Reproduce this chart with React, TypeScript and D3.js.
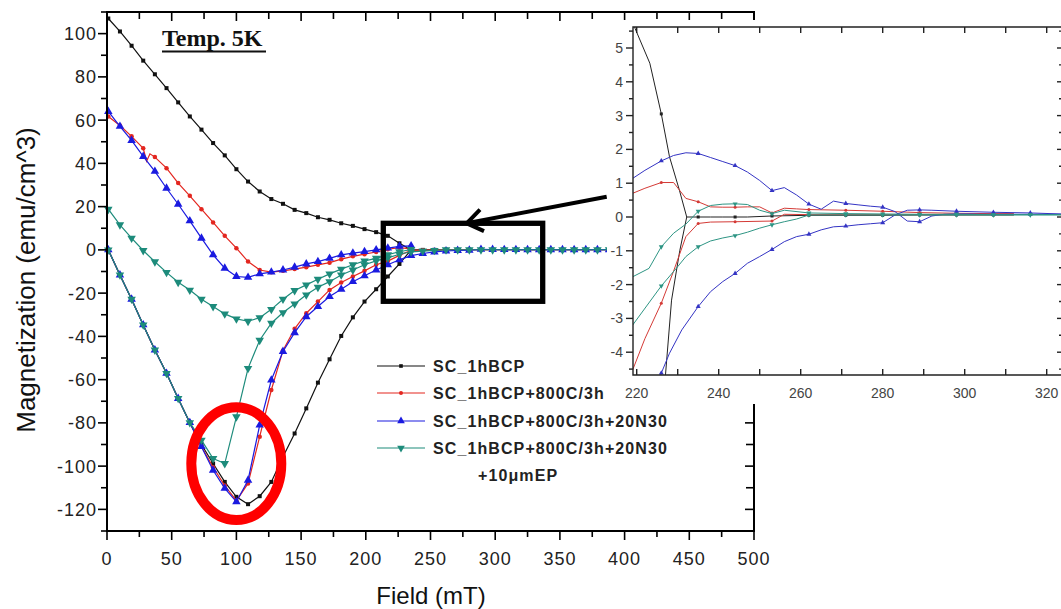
import React from "react";
import * as d3 from "d3";

// ---------- main chart data (Field in mT, Magnetization in emu/cm^3) ----------
const FIELD = [1, 10, 19, 28, 37, 46, 55, 64, 73, 82, 91, 100, 109, 118, 127, 136, 145, 154, 163, 172, 181, 190, 199, 208, 217, 226, 235];
const TAIL_FIELD = [244, 253, 262, 271, 280, 289, 298, 307, 316, 325, 334, 343, 352, 361, 370, 379, 388, 397];

const blackUp = [0, -11.6, -22.8, -34.7, -46.3, -57.1, -68.7, -79.9, -90, -98.8, -107.3, -114.2, -117.6, -113.9, -107.3, -95.7, -84.9, -73.3, -61.4, -50.6, -39.8, -31.2, -23.9, -18.2, -12.3, -6.5, 0];
const blackDown = [107, 101, 94.4, 87.5, 81.2, 74.8, 68.2, 61.7, 55.6, 49.4, 43.7, 37.3, 31.6, 27, 23.5, 21.3, 18.5, 17, 15.1, 13.9, 12.3, 11.1, 9.6, 8.2, 6.5, 3.05, 0];
const blackTail = [0, 0.03, 0.05, 0.05, 0.05, 0.06, 0.06, 0.06, 0.06, 0.06, 0.05, 0.05, 0.05, 0.05, 0.05, 0.05, 0.05, 0.05];

const redUp = [0, -11.6, -22.8, -34.7, -46.3, -57.1, -68.7, -79.9, -91, -100.5, -109, -116, -108, -86.4, -64.8, -46.5, -36.5, -29.3, -23.9, -18.5, -15.1, -12.3, -9.7, -6.9, -5.2, -2.55, -0.19];
const redDownField = [1, 10, 19, 28, 30.6, 33.2, 37, 46, 55, 64, 73, 82, 91, 100, 109, 118, 127, 136, 145, 154, 163, 172, 181, 190, 199, 208, 217, 226, 235];
const redDown = [61.7, 57.5, 52.5, 47, 41, 44.4, 42.9, 37.8, 30.9, 25, 18.8, 12.7, 6.5, 0.8, -5.4, -9.3, -10.3, -9.7, -8.9, -8, -6.9, -5.9, -4.3, -3, -2, -1, 0.3, 1.02, 0.45];
const redTail = [-0.14, -0.12, 0.07, 0.07, 0.07, 0.07, 0.07, 0.07, 0.07, 0.07, 0.06, 0.06, 0.06, 0.06, 0.06, 0.06, 0.06, 0.06];

const blueUp = [0, -11.6, -22.8, -34.7, -46.3, -57.1, -68.7, -79.9, -91, -101.9, -110.3, -116.5, -106.5, -81, -60.2, -47, -38.3, -30.9, -26.2, -21.6, -18.2, -14.7, -12, -9.3, -6.9, -4.6, -2.65];
const blueDown = [64, 57.1, 50.6, 43.2, 36.3, 28.5, 21.1, 13.4, 5.4, -2.3, -8.5, -12.3, -12.7, -11.1, -10.3, -9.3, -8, -6.5, -5.4, -3.9, -2.3, -1.5, -0.8, 0, 0.8, 1.66, 1.88];
const blueTail = [-1.67, -0.96, -0.51, -0.27, -0.17, 0.21, 0.17, 0.14, 0.1, 0.08, 0.08, 0.07, 0.07, 0.07, 0.07, 0.07, 0.07, 0.07];

const tealUp = [0, -11.6, -22.8, -34.7, -46.3, -57.1, -68.7, -79.9, -88, -96.5, -98.8, -77.2, -54.8, -41.8, -33.9, -29, -25, -20.8, -17.3, -14.7, -11.6, -9.3, -6.9, -5.1, -3.7, -2.04, -0.88];
const tealDown = [18.8, 11.6, 5.4, -0.3, -5.5, -10.4, -15, -18.6, -22.8, -26.2, -29.6, -31.9, -33, -31.4, -27.5, -22.8, -18.8, -16.2, -13.6, -11.1, -8.9, -6.9, -5.1, -3.9, -2.2, -0.88, 0.17];
const tealTail = [-0.55, -0.23, 0.06, 0.06, 0.06, 0.06, 0.06, 0.06, 0.06, 0.06, 0.06, 0.06, 0.06, 0.06, 0.06, 0.06, 0.06, 0.06];

const SERIES_NAMES = ["SC_1hBCP", "SC_1hBCP+800C/3h", "SC_1hBCP+800C/3h+20N30", "SC_1hBCP+800C/3h+20N30"];
const LEGEND_EXTRA = "+10\u03bcmEP";

const X_TICKS = [0, 50, 100, 150, 200, 250, 300, 350, 400, 450, 500];
const Y_TICKS = [-120, -100, -80, -60, -40, -20, 0, 20, 40, 60, 80, 100];

// ---------- inset data (zoom 219..324 mT) ----------
const blueUpperF = [219, 222, 226, 229, 232, 235, 238, 241, 244, 247, 250, 253, 256, 259, 262, 265, 268, 271, 274, 277, 280, 283, 286, 289, 292, 295, 298, 301, 304, 307, 310, 313, 316, 319, 322, 326];
const blueUpperM = [1.14, 1.38, 1.66, 1.82, 1.9, 1.88, 1.76, 1.64, 1.52, 1.33, 1.08, 0.78, 0.87, 0.65, 0.38, 0.23, 0.47, 0.4, 0.36, 0.32, 0.29, 0.16, -0.12, -0.14, 0.03, 0.08, 0.09, 0.09, 0.08, 0.08, 0.08, 0.08, 0.08, 0.08, 0.08, 0.08];
const blueLowerF = [224.5, 226, 228, 231, 235, 238, 241, 244, 247, 250, 253, 256, 259, 262, 265, 268, 271, 274, 277, 280, 283, 286, 289, 292, 298, 307, 316, 326];
const blueLowerM = [-5.2, -4.62, -4.03, -3.34, -2.65, -2.21, -1.91, -1.67, -1.37, -1.17, -0.96, -0.73, -0.58, -0.51, -0.38, -0.29, -0.27, -0.23, -0.2, -0.17, 0.06, 0.2, 0.21, 0.2, 0.17, 0.14, 0.12, 0.08];
const redUpperF = [219, 222, 226, 229, 232, 235, 238, 241, 244, 247, 250, 253, 256, 259, 262, 271, 280, 289, 298, 307, 312];
const redUpperM = [0.7, 0.85, 1.02, 1.02, 0.55, 0.45, 0.3, 0.29, 0.29, 0.3, 0.3, 0.12, 0.26, 0.24, 0.22, 0.2, 0.17, 0.13, 0.11, 0.1, 0.1];
const redLowerF = [219, 222, 226, 229, 232, 235, 238, 244, 253, 256, 262, 271, 280, 289, 298, 307, 312];
const redLowerM = [-4.53, -3.6, -2.55, -1.6, -0.58, -0.19, -0.15, -0.14, -0.12, 0.08, 0.07, 0.07, 0.07, 0.07, 0.07, 0.07, 0.07];
const tealUpperF = [219, 223, 226, 229, 232, 235, 238, 241, 244, 247, 250, 253, 256, 262, 271, 280, 289, 298, 307, 316, 326];
const tealUpperM = [-1.77, -1.52, -0.88, -0.48, -0.21, 0.17, 0.34, 0.38, 0.39, 0.37, 0.2, 0.1, 0.2, 0.12, 0.1, 0.09, 0.08, 0.08, 0.07, 0.07, 0.07];
const tealLowerF = [219, 226, 230, 232, 235, 238, 241, 244, 247, 250, 253, 256, 259, 262, 271, 280, 289, 298, 307, 316, 326];
const tealLowerM = [-3.2, -2.04, -1.47, -1.17, -0.88, -0.71, -0.62, -0.55, -0.45, -0.33, -0.23, -0.14, -0.06, 0.06, 0.06, 0.06, 0.06, 0.06, 0.06, 0.06, 0.06];
const blackUpperF = [219, 219.6, 223.2, 226, 228, 230.4, 232.2, 235, 238, 241, 244, 247, 253, 262, 271, 280, 289, 298, 307, 312];
const blackUpperM = [5.9, 5.58, 4.55, 3.05, 1.78, 0.8, 0, 0, 0, 0, 0, 0, 0.03, 0.05, 0.05, 0.05, 0.06, 0.06, 0.06, 0.06];
const blackLowerF = [226.8, 228.5, 230.5, 232.2];
const blackLowerM = [-5, -2.46, -1.0, 0];

const INSET_MARKS = [226, 235, 244, 253, 262, 271, 280, 289, 298, 307, 316];
const INSET_X_TICKS = [220, 240, 260, 280, 300, 320];
const INSET_Y_TICKS = [-4, -3, -2, -1, 0, 1, 2, 3, 4, 5];

const COLORS = ["#111111", "#e3261f", "#1a1ae0", "#1d8b7b"];
const INSET_COLORS = ["#222222", "#d43a36", "#3434c4", "#2e9584"];
const MARKERS = ["square", "circle", "up", "down"];

const SANS = "'Liberation Sans', Arial, Helvetica, sans-serif";

function Marker({ type, x, y, color, s }: { type: string; x: number; y: number; color: string; s: number }) {
  if (type === "square") return <rect x={x - s / 2} y={y - s / 2} width={s} height={s} fill={color} />;
  if (type === "circle") return <circle cx={x} cy={y} r={s / 2} fill={color} />;
  const area = (s * s * Math.sqrt(3)) / 4;
  const p = d3.symbol().type(d3.symbolTriangle).size(area)() as string;
  return <path d={p} fill={color} transform={`translate(${x},${y})${type === "down" ? " rotate(180)" : ""}`} />;
}

export default function App() {
  const xM = d3.scaleLinear().domain([0, 500]).range([107, 754]);
  const yM = d3.scaleLinear().domain([-130, 110]).range([531, 12]);
  const xI = d3.scaleLinear().domain([220, 320]).range([636.7, 1046.7]);
  const yI = d3.scaleLinear().domain([0, 5]).range([217, 48]);
  const gen = d3.line();

  const mkPath = (fs: number[], ms: number[], sx: any, sy: any) =>
    gen(fs.map((f, i) => [sx(f), sy(ms[i])] as [number, number])) as string;

  const main = [
    { up: blackUp, down: blackDown, downF: FIELD, tail: blackTail },
    { up: redUp, down: redDown, downF: redDownField, tail: redTail },
    { up: blueUp, down: blueDown, downF: FIELD, tail: blueTail },
    { up: tealUp, down: tealDown, downF: FIELD, tail: tealTail },
  ];
  const mainSizes = [4, 4.5, 8.5, 8.5];

  const inset = [
    [[blackUpperF, blackUpperM], [blackLowerF, blackLowerM]],
    [[redUpperF, redUpperM], [redLowerF, redLowerM]],
    [[blueUpperF, blueUpperM], [blueLowerF, blueLowerM]],
    [[tealUpperF, tealUpperM], [tealLowerF, tealLowerM]],
  ];
  const insetSizes = [3, 3, 5, 5];

  const xMinor = d3.range(25, 500, 50);
  const yMinor = d3.range(-130, 111, 10).filter((v) => !Y_TICKS.includes(v));
  const iXTicks = d3.range(220, 321, 10);
  const iYMinor = d3.range(-4.5, 5.6, 0.5);

  const legendRows = [366, 393, 421, 448];

  return (
    <svg width={1061} height={609} style={{ position: "absolute", left: 0, top: 0, background: "#fff" }}>
      <rect x={0} y={0} width={1061} height={609} fill="#fff" />
      {/* ---------- main chart ---------- */}
      <g>
        {main.map((s, si) => (
          <g key={si}>
            <path d={mkPath([...FIELD, ...TAIL_FIELD], [...s.up, ...s.tail], xM, yM)} fill="none" stroke={COLORS[si]} strokeWidth={1.2} />
            <path d={mkPath(s.downF, s.down, xM, yM)} fill="none" stroke={COLORS[si]} strokeWidth={1.2} />
            {[...FIELD, ...TAIL_FIELD].map((f, i) => (
              <Marker key={"u" + i} type={MARKERS[si]} x={xM(f)} y={yM([...s.up, ...s.tail][i])} color={COLORS[si]} s={mainSizes[si]} />
            ))}
            {s.downF.map((f, i) =>
              FIELD.includes(f) ? (
                <Marker key={"d" + i} type={MARKERS[si]} x={xM(f)} y={yM(s.down[i])} color={COLORS[si]} s={mainSizes[si]} />
              ) : null
            )}
          </g>
        ))}
      </g>

      {/* frame and axes */}
      <g stroke="#000" strokeWidth={2} fill="none">
        <path d={`M${xM(0)},${yM(110)} H${xM(500)} V${yM(-130)} H${xM(0)} Z`} />
      </g>
      <g stroke="#000" strokeWidth={1.6}>
        {X_TICKS.map((t) => (
          <g key={"xt" + t}>
            <line x1={xM(t)} x2={xM(t)} y1={531} y2={540} />
            <line x1={xM(t)} x2={xM(t)} y1={12} y2={21} />
          </g>
        ))}
        {xMinor.map((t) => (
          <g key={"xm" + t}>
            <line x1={xM(t)} x2={xM(t)} y1={531} y2={537} />
            <line x1={xM(t)} x2={xM(t)} y1={12} y2={19} />
          </g>
        ))}
        {Y_TICKS.map((t) => (
          <g key={"yt" + t}>
            <line x1={98} x2={107} y1={yM(t)} y2={yM(t)} />
            <line x1={745} x2={754} y1={yM(t)} y2={yM(t)} />
          </g>
        ))}
        {yMinor.map((t) => (
          <g key={"ym" + t}>
            <line x1={101} x2={107} y1={yM(t)} y2={yM(t)} />
            <line x1={746} x2={754} y1={yM(t)} y2={yM(t)} />
          </g>
        ))}
      </g>
      <g fontFamily={SANS} fontSize={18} fill="#222" letterSpacing={1}>
        {X_TICKS.map((t) => (
          <text key={"xl" + t} x={xM(t)} y={565} textAnchor="middle">{String(t)}</text>
        ))}
        {Y_TICKS.map((t) => (
          <text key={"yl" + t} x={97} y={yM(t) + 6.5} textAnchor="end">{String(t)}</text>
        ))}
      </g>
      <text x={431} y={604} textAnchor="middle" fontFamily={SANS} fontSize={24} fill="#111">Field (mT)</text>
      <text transform="translate(35,280) rotate(-90)" textAnchor="middle" fontFamily={SANS} fontSize={26} fill="#111">Magnetization (emu/cm^3)</text>

      {/* title */}
      <text x={162} y={46} fontFamily="'Liberation Serif', 'Times New Roman', serif" fontWeight="bold" fontSize={24} fill="#111">Temp. 5K</text>
      <line x1={162} x2={266} y1={51.5} y2={51.5} stroke="#111" strokeWidth={2} />

      {/* legend */}
      <g fontFamily={SANS} fontWeight="bold" fontSize={16} fill="#222" letterSpacing={1.1}>
        {SERIES_NAMES.map((n, i) => (
          <g key={"lg" + i}>
            <line x1={377} x2={425} y1={legendRows[i]} y2={legendRows[i]} stroke={COLORS[i]} strokeWidth={1.2} />
            <Marker type={MARKERS[i]} x={401} y={legendRows[i]} color={COLORS[i]} s={mainSizes[i] * 0.9} />
            <text x={433} y={legendRows[i] + 6}>{n}</text>
          </g>
        ))}
        <text x={478} y={481}>{LEGEND_EXTRA}</text>
      </g>

      {/* ---------- inset ---------- */}
      <rect x={607} y={20} width={454} height={384} fill="#fff" />
      <defs>
        <clipPath id="insetClip">
          <rect x={633} y={27} width={431} height={348} />
        </clipPath>
      </defs>
      <g clipPath="url(#insetClip)">
        {inset.map((branches, si) => (
          <g key={"is" + si}>
            {branches.map(([fs, ms], bi) => (
              <g key={"ib" + bi}>
                <path d={mkPath(fs, ms, xI, yI)} fill="none" stroke={INSET_COLORS[si]} strokeWidth={1} />
                {fs.map((f, i) =>
                  INSET_MARKS.includes(f) ? (
                    <Marker key={"im" + i} type={MARKERS[si]} x={xI(f)} y={yI(ms[i])} color={INSET_COLORS[si]} s={insetSizes[si]} />
                  ) : null
                )}
              </g>
            ))}
          </g>
        ))}
      </g>
      <g stroke="#222" strokeWidth={1.4} fill="none">
        <path d={`M1064,27 H633 V375 H1064`} />
        <line x1={1064} x2={1064} y1={27} y2={375} />
        {iXTicks.map((t) => (
          <g key={"ixt" + t}>
            <line x1={xI(t)} x2={xI(t)} y1={27} y2={33} />
            <line x1={xI(t)} x2={xI(t)} y1={375} y2={369} />
          </g>
        ))}
        {iYMinor.map((t) => (
          <g key={"iyt" + t}>
            <line x1={Number.isInteger(t) ? 626 : 629} x2={633} y1={yI(t)} y2={yI(t)} />
            <line x1={Number.isInteger(t) ? 1057 : 1059} x2={1064} y1={yI(t)} y2={yI(t)} />
          </g>
        ))}
      </g>
      <g fontFamily={SANS} fontSize={14} fill="#444">
        {INSET_X_TICKS.map((t) => (
          <text key={"ixl" + t} x={xI(t)} y={398} textAnchor="middle">{String(t)}</text>
        ))}
        {INSET_Y_TICKS.map((t) => (
          <text key={"iyl" + t} x={623} y={yI(t) + 5} textAnchor="end">{String(t)}</text>
        ))}
      </g>

      {/* ---------- annotations ---------- */}
      <rect x={383.3} y={223.3} width={159.4} height={78} fill="none" stroke="#000" strokeWidth={5.3} />
      <line x1={606.7} y1={196.7} x2={468} y2={223} stroke="#000" strokeWidth={4} />
      <polyline points="480,209.7 466.7,223.3 484,231.1" fill="none" stroke="#000" strokeWidth={4} strokeLinejoin="miter" />
      <ellipse cx={236.3} cy={463.6} rx={45} ry={56.4} fill="none" stroke="#ff0000" strokeWidth={10} />
    </svg>
  );
}
